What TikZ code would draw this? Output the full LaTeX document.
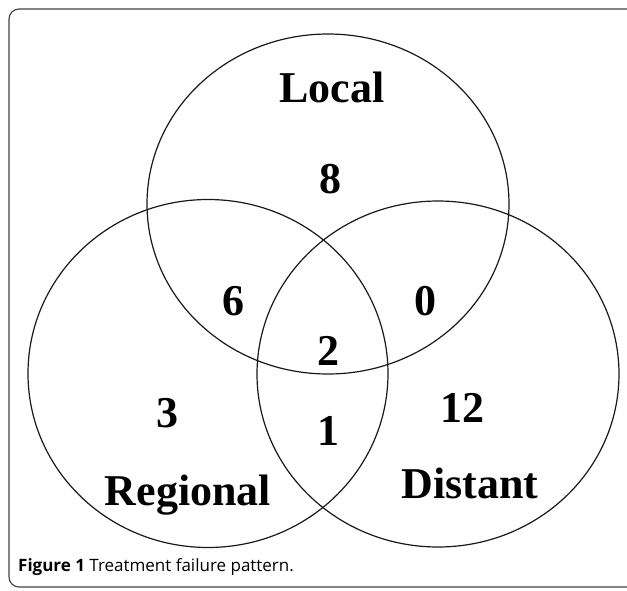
\documentclass[tikz,border=0pt]{standalone}
\usepackage{fontspec}
\setmainfont{Liberation Serif}
\newfontfamily\capfont{Open Sans}
\begin{document}
\begin{tikzpicture}[x=1pt,y=-1pt,
  venn/.style={draw=black!90,line width=1.2pt},
  lbl/.style={font=\bfseries\fontsize{44}{44}\selectfont,inner sep=0pt,anchor=base},
  frame/.style={draw=black!75,line width=1.1pt,rounded corners=10pt}]
\useasboundingbox (0,0) rectangle (627,590);
\draw[frame] (640,9) -- (9,9) -- (9,587) -- (640,587);
\draw[venn] (328,204) ellipse [x radius=181pt, y radius=170pt];
\draw[venn] (208,373.5) ellipse [x radius=180pt, y radius=174pt];
\draw[venn] (438,374) ellipse [x radius=181pt, y radius=173pt];
\node[lbl] (local) at (332,102) {Local};
\node[lbl] (n8) at (330,193) {8};
\node[lbl] (n6) at (233,315) {6};
\node[lbl] (n0) at (425,315) {0};
\node[lbl] (n2) at (328,365) {2};
\node[lbl] (n3) at (167,427) {3};
\node[lbl] (n1) at (328,445) {1};
\node[lbl] (n12) at (462,422) {12};
\node[lbl] (regional) at (188,505) {Regional};
\node[lbl] (distant) at (470,498) {Distant};
\node[inner sep=0pt,anchor=base west,font=\capfont\fontsize{17}{17}\selectfont] (cap) at (18,571) {\textbf{Figure 1} Treatment failure pattern.};
\end{tikzpicture}
\end{document}
